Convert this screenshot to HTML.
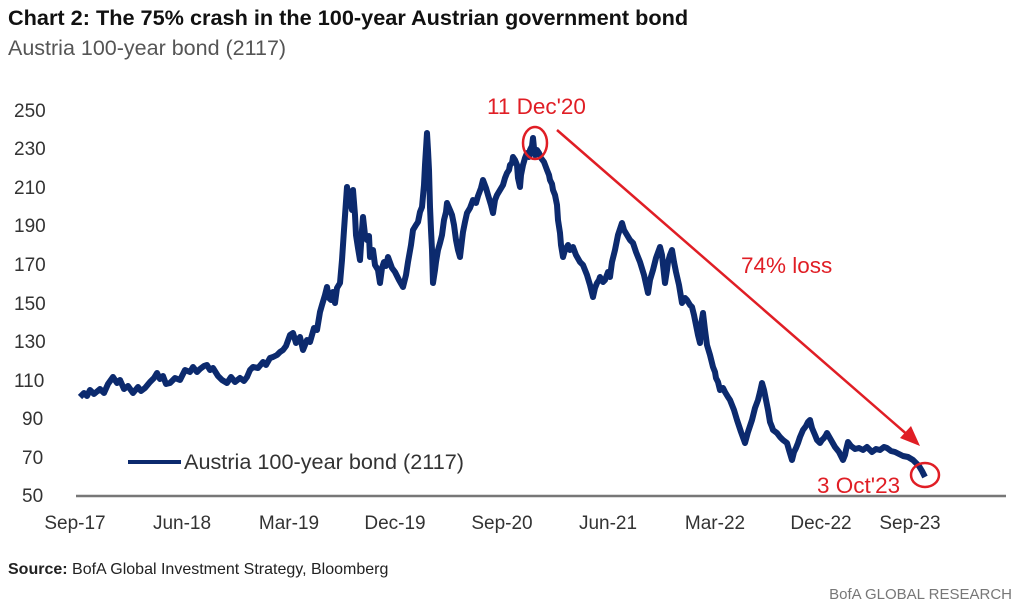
<!DOCTYPE html>
<html><head><meta charset="utf-8"><style>
body{margin:0;background:#fff;width:1024px;height:611px;overflow:hidden}
svg{display:block}
</style></head><body>
<svg width="1024" height="611" viewBox="0 0 1024 611" font-family="'Liberation Sans',sans-serif">
<text x="8" y="25" font-size="21.7" font-weight="bold" fill="#111">Chart 2: The 75% crash in the 100-year Austrian government bond</text>
<text x="8" y="55" font-size="21.5" fill="#555">Austria 100-year bond (2117)</text>
<g font-size="19" fill="#333" text-anchor="start">
<text x="14" y="117">250</text><text x="14" y="155">230</text><text x="14" y="194">210</text>
<text x="14" y="232">190</text><text x="14" y="271">170</text><text x="14" y="310">150</text>
<text x="14" y="348">130</text><text x="14" y="387">110</text><text x="22" y="425">90</text>
<text x="22" y="464">70</text><text x="22" y="502">50</text>
</g>
<line x1="76" y1="496" x2="1006" y2="496" stroke="#777" stroke-width="2.5"/>
<g font-size="19" fill="#333" text-anchor="middle">
<text x="75" y="529">Sep-17</text><text x="182" y="529">Jun-18</text><text x="289" y="529">Mar-19</text>
<text x="395" y="529">Dec-19</text><text x="502" y="529">Sep-20</text><text x="608" y="529">Jun-21</text>
<text x="715" y="529">Mar-22</text><text x="821" y="529">Dec-22</text><text x="910" y="529">Sep-23</text>
</g>
<polyline fill="none" stroke="#0c2a6e" stroke-width="6" stroke-linejoin="round" points="80,397 84,393 87,396 90,390 94,394 100,389 104,393 108,384 113,377 117,383 120,380 124,389 128,386 133,393 138,387 141,391 145,388 150,382 154,378 157,373 160,379 163,376 166,384 170,383 175,378 180,380 185,370 190,372 193,367 197,372 200,369 204,366 207,365 210,370 213,368 218,376 222,380 227,383 231,377 235,382 240,378 244,381 247,377 250,370 253,367 258,368 263,362 266,365 270,358 273,357 277,355 280,352 283,350 286,346 290,335 293,333 296,343 300,337 303,350 307,340 310,342 314,328 317,330 320,312 322,305 325,295 327,287 329,298 331,300 333,292 335,303 337,288 340,283 342,260 344,230 347,187 349,205 350,200 352,210 353,190 355,215 356,235 358,248 360,260 362,230 363,217 365,235 367,240 369,236 370,257 373,250 375,265 378,270 380,283 382,268 384,262 386,266 388,257 392,268 395,272 399,280 403,287 406,275 408,262 411,245 413,230 416,225 418,222 420,212 422,207 424,185 425,165 427,133 428,150 429,170 430,207 431,230 432,250 433,283 435,270 436,262 438,250 440,243 442,235 444,220 446,212 447,203 450,210 452,215 454,225 456,240 458,250 460,257 462,240 463,232 465,222 467,213 470,208 473,200 476,203 478,196 481,188 483,180 486,188 488,195 491,205 493,213 495,200 497,195 500,190 503,185 505,178 507,173 509,170 510,165 512,163 513,157 515,160 517,165 518,178 520,187 521,175 523,165 525,158 527,153 529,157 530,150 532,146 533,138 534,148 535,155 536,152 537,150 539,153 541,158 544,162 547,170 549,175 550,180 552,184 553,190 555,195 557,205 558,220 560,233 561,245 563,257 565,250 568,245 570,250 573,247 576,255 580,262 583,265 587,275 590,285 593,297 595,288 597,283 599,280 600,277 603,282 605,280 608,272 610,277 612,262 615,250 618,235 622,223 624,230 627,235 630,240 633,243 636,252 640,262 644,275 648,293 650,280 653,270 656,258 660,247 662,255 663,265 665,283 667,270 668,262 670,255 672,250 674,262 676,272 679,285 682,303 685,298 687,300 690,305 692,307 694,315 696,325 698,335 700,343 701,325 703,313 705,330 707,345 710,355 713,367 715,372 716,378 718,382 720,390 723,388 725,392 728,397 730,400 734,410 737,420 741,432 745,443 748,432 752,420 755,408 758,400 760,392 762,383 764,390 766,400 768,410 770,422 772,427 773,430 777,433 780,437 783,440 787,443 789,450 792,460 794,452 796,448 798,443 800,437 803,430 806,426 808,422 810,420 812,428 815,435 817,440 820,443 822,440 824,438 826,435 827,433 831,440 835,447 839,452 843,460 845,455 846,450 847,446 848,442 851,446 855,449 859,448 863,450 867,447 872,452 876,449 880,450 884,447 887,448 891,451 895,452 899,454 903,456 908,457 913,460 916,463 919,466 922,471 925,477"/>
<line x1="128" y1="462" x2="181" y2="462" stroke="#0c2a6e" stroke-width="4"/>
<text x="184" y="469" font-size="21" fill="#333" textLength="280" lengthAdjust="spacingAndGlyphs">Austria 100-year bond (2117)</text>
<g fill="none" stroke="#e01e25" stroke-width="2.5">
<ellipse cx="535" cy="143" rx="12" ry="16"/>
<ellipse cx="925" cy="475" rx="14" ry="12"/>
<line x1="557" y1="130" x2="910" y2="437"/>
</g>
<polygon points="920,446 900,438 911,426" fill="#e01e25"/>
<g font-size="22.5" fill="#e01e25">
<text x="487" y="114">11 Dec'20</text>
<text x="741" y="273">74% loss</text>
<text x="817" y="493">3 Oct'23</text>
</g>
<text x="8" y="574" font-size="16" fill="#222"><tspan font-weight="bold">Source:</tspan> BofA Global Investment Strategy, Bloomberg</text>
<text x="1012" y="599" font-size="15" fill="#777" text-anchor="end">BofA GLOBAL RESEARCH</text>
</svg>
</body></html>
